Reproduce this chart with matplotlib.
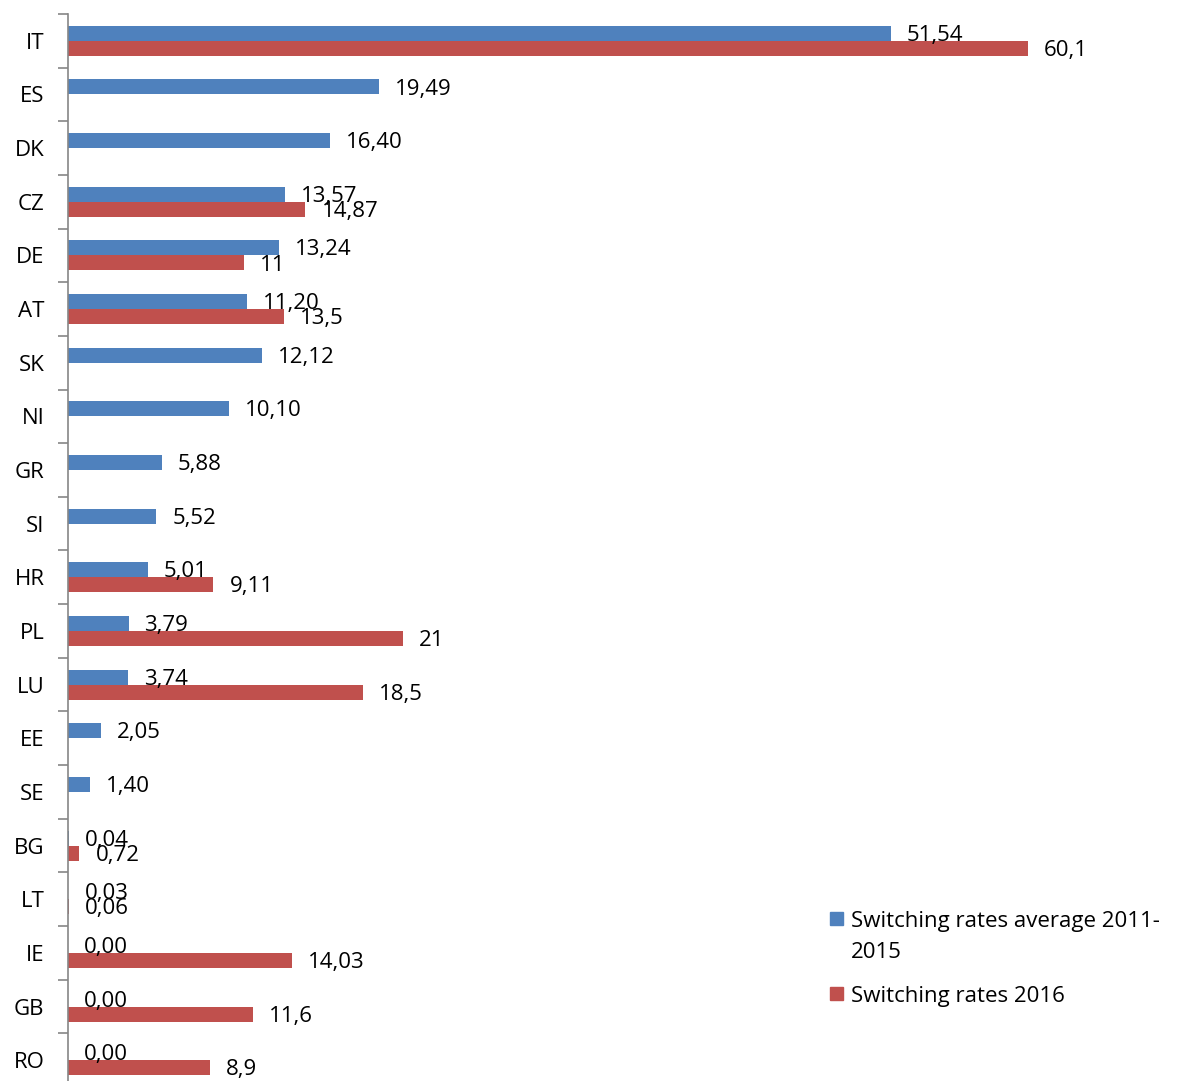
import numpy as np
import matplotlib.pyplot as plt
from matplotlib.patches import Rectangle

plt.rcParams['font.family'] = ['Open Sans', 'DejaVu Sans']

countries = ["IT", "ES", "DK", "CZ", "DE", "AT", "SK", "NI", "GR", "SI",
             "HR", "PL", "LU", "EE", "SE", "BG", "LT", "IE", "GB", "RO"]
avg_2011_2015 = [51.54, 19.49, 16.40, 13.57, 13.24, 11.20, 12.12, 10.10, 5.88, 5.52,
                 5.01, 3.79, 3.74, 2.05, 1.40, 0.04, 0.03, 0.00, 0.00, 0.00]
rates_2016 = [60.1, np.nan, np.nan, 14.87, 11, 13.5, np.nan, np.nan, np.nan, np.nan,
              9.11, 21, 18.5, np.nan, np.nan, 0.72, 0.06, 14.03, 11.6, 8.9]
series_names = ["Switching rates average 2011-\n2015", "Switching rates 2016"]

blue = "#4F81BD"
red = "#C0504D"
fs = 16

W, H = 1178, 1081
fig = plt.figure(figsize=(W / 100, H / 100), dpi=100)
ax = fig.add_axes([68 / W, 1 - 1087 / H, (W - 68) / W, (1087 - 14) / H])

y = np.arange(len(countries))
h = 0.28
ax.barh(y - h / 2, avg_2011_2015, height=h, color=blue)
ax.barh(y + h / 2, rates_2016, height=h, color=red)

# etiquetas con coma decimal
for i in range(len(countries)):
    v = avg_2011_2015[i]
    ax.annotate(f"{v:.2f}".replace(".", ","), (v, y[i] - h / 2), xytext=(11.5, -1.5),
                textcoords="offset points", ha="left", va="center", fontsize=fs)
    r = rates_2016[i]
    if not np.isnan(r):
        ax.annotate(f"{r:g}".replace(".", ","), (r, y[i] + h / 2), xytext=(11.5, -1.5),
                    textcoords="offset points", ha="left", va="center", fontsize=fs)

ax.set_xlim(0, (W - 68) / 15.97)
ax.set_ylim(len(countries) - 0.5, -0.5)

ax.set_yticks(y)
ax.set_yticklabels(countries, fontsize=fs)
ax.set_yticks(np.arange(len(countries) + 1) - 0.5, minor=True)
ax.tick_params(axis="y", which="major", length=0, pad=17)
ax.tick_params(axis="y", which="minor", length=7, color="#868686", width=1.2)
ax.set_xticks([])

for s in ["top", "right", "bottom"]:
    ax.spines[s].set_visible(False)
ax.spines["left"].set_color("#868686")
ax.spines["left"].set_linewidth(1.2)

# leyenda manual (cuadro alineado con la primera línea)
for (sq_y, col, name) in [(912, blue, series_names[0]), (987, red, series_names[1])]:
    fig.add_artist(Rectangle((830 / W, 1 - (sq_y + 13) / H), 13 / W, 13 / H,
                             transform=fig.transFigure, color=col))
    fig.text(851 / W, 1 - (sq_y - 1) / H, name, ha="left", va="top",
             fontsize=fs, linespacing=1.6, transform=fig.transFigure)

plt.savefig("out.png", dpi=100)
